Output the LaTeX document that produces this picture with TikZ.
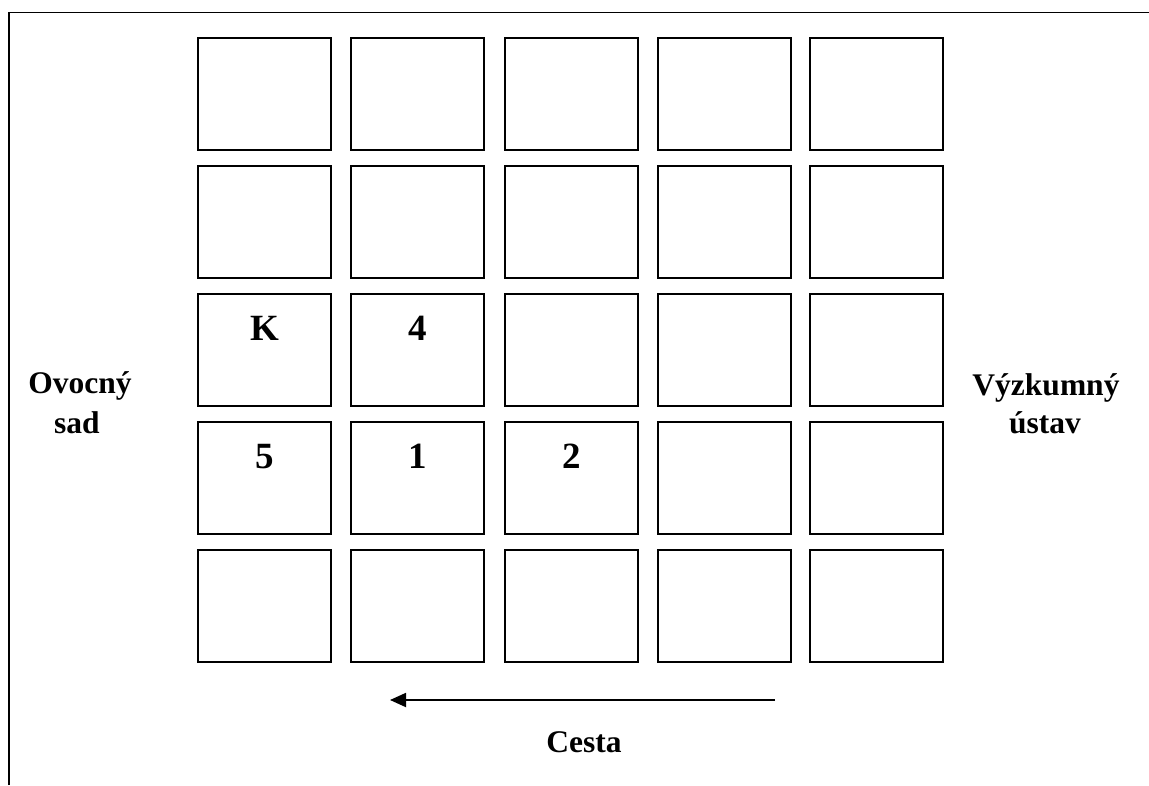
\documentclass[tikz,border=0pt]{standalone}
\usepackage{fontspec}
\setmainfont{Liberation Serif}
\usetikzlibrary{arrows.meta}
\tikzset{
  plot/.style={draw=black, line width=1.8pt, minimum width=133pt, minimum height=112pt, inner sep=0pt, anchor=north west},
  cell/.style={font=\bfseries\fontsize{37}{40}\selectfont, inner sep=0pt, anchor=base},
  side/.style={font=\bfseries\fontsize{31.5}{36}\selectfont, inner sep=0pt, anchor=base},
  frame/.style={line width=1.8pt},
  road/.style={line width=1.8pt, -{Triangle[length=16pt,width=14pt]}}
}
\begin{document}
\begin{tikzpicture}[x=1pt,y=-1pt]
\useasboundingbox (0,0) rectangle (1149,785);
% frame (top and left edges)
\coordinate (f1) at (9,785);
\coordinate (f2) at (9,12.5);
\coordinate (f3) at (1149,12.5);
\draw[frame] (f1) -- (f2) -- (f3);
% grid of plots
\foreach \r/\y in {1/37,2/165,3/293,4/421,5/549}{
  \foreach \c/\x in {1/197,2/350,3/504,4/657,5/809}{
    \node[plot] (b\r\c) at (\x,\y) {};
  }
}
% labels inside plots
\node[cell] (lK) at ([yshift=-47pt]b31.north) {K};
\node[cell] (l4) at ([yshift=-47pt]b32.north) {4};
\node[cell] (l5) at ([yshift=-47pt]b41.north) {5};
\node[cell] (l1) at ([yshift=-47pt]b42.north) {1};
\node[cell] (l2) at ([yshift=-47pt]b43.north) {2};
% side labels
\node[side] (ov) at (80,393) {Ovocný};
\node[side] (sad) at (77,433) {sad};
\node[side] (vy) at (1046,395) {Výzkumný};
\node[side] (us) at (1045,433) {ústav};
% road arrow
\coordinate (aS) at (775,700);
\coordinate (aE) at (390,700);
\draw[road] (aS) -- (aE);
\node[side] (cesta) at (584,752) {Cesta};
\end{tikzpicture}
\end{document}
